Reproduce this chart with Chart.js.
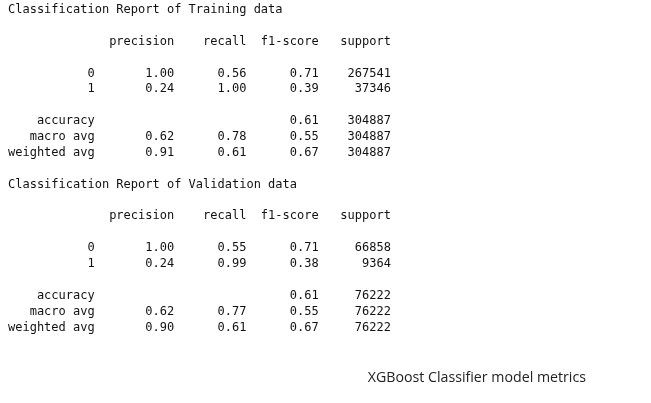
<!DOCTYPE html>
<html><head><meta charset="utf-8">
<script src="https://cdn.jsdelivr.net/npm/chart.js"></script>
<style>
html,body{margin:0;padding:0;background:#fff;width:651px;height:403px;overflow:hidden}
#wrap{position:relative;width:651px;height:403px}
canvas{position:absolute;left:0;top:0}
pre{position:absolute;left:8px;top:2px;margin:0;font-family:"DejaVu Sans Mono",monospace;font-size:12px;line-height:15.87px;color:#111}
</style></head><body>
<div id="wrap"><canvas id="c" width="651" height="403"></canvas><pre id="rep"></pre></div>
<script>
const classes = ["0","1"];
const metrics = ["precision","recall","f1-score","support"];
const trainTitle = "Classification Report of Training data";
const trainPrecision = [1.00, 0.24];
const trainRecall = [0.56, 1.00];
const trainF1 = [0.71, 0.39];
const trainSupport = [267541, 37346];
const trainAccuracy = 0.61;
const trainMacro = [0.62, 0.78, 0.55];
const trainWeighted = [0.91, 0.61, 0.67];
const valTitle = "Classification Report of Validation data";
const valPrecision = [1.00, 0.24];
const valRecall = [0.55, 0.99];
const valF1 = [0.71, 0.38];
const valSupport = [66858, 9364];
const valAccuracy = 0.61;
const valMacro = [0.62, 0.77, 0.55];
const valWeighted = [0.90, 0.61, 0.67];
const caption = "XGBoost Classifier model metrics";

const W = 12;
const r = (s,n)=>String(s).padStart(n);
function report(title,p,rc,f,s,acc,mac,wt){
  const tot = s.reduce((a,b)=>a+b,0);
  let L=[title,""];
  L.push(r("",W)+" "+metrics.map(m=>" "+r(m,9)).join(""));
  L.push("");
  classes.forEach((c,i)=>L.push(r(c,W)+" "+" "+r(p[i].toFixed(2),9)+" "+r(rc[i].toFixed(2),9)+" "+r(f[i].toFixed(2),9)+" "+r(s[i],9)));
  L.push("");
  L.push(r("accuracy",W)+" "+" "+r("",9)+" "+r("",9)+" "+r(acc.toFixed(2),9)+" "+r(tot,9));
  L.push(r("macro avg",W)+" "+mac.map(v=>" "+r(v.toFixed(2),9)).join("")+" "+r(tot,9));
  L.push(r("weighted avg",W)+" "+wt.map(v=>" "+r(v.toFixed(2),9)).join("")+" "+r(tot,9));
  L.push("");
  return L.join("\n");
}
document.getElementById("rep").textContent =
  report(trainTitle,trainPrecision,trainRecall,trainF1,trainSupport,trainAccuracy,trainMacro,trainWeighted)+"\n"+
  report(valTitle,valPrecision,valRecall,valF1,valSupport,valAccuracy,valMacro,valWeighted);

new Chart(document.getElementById("c"),{
  type:"bar",
  data:{labels:[],datasets:[]},
  options:{
    responsive:false,animation:false,
    layout:{padding:{right:65,bottom:17}},
    scales:{x:{display:false},y:{display:false}},
    plugins:{legend:{display:false},tooltip:{enabled:false},
      title:{display:true,text:caption,position:"bottom",align:"end",color:"#222",
        font:{family:"Open Sans",size:14.2,weight:"normal"},padding:0}}
  }
});
</script></body></html>
